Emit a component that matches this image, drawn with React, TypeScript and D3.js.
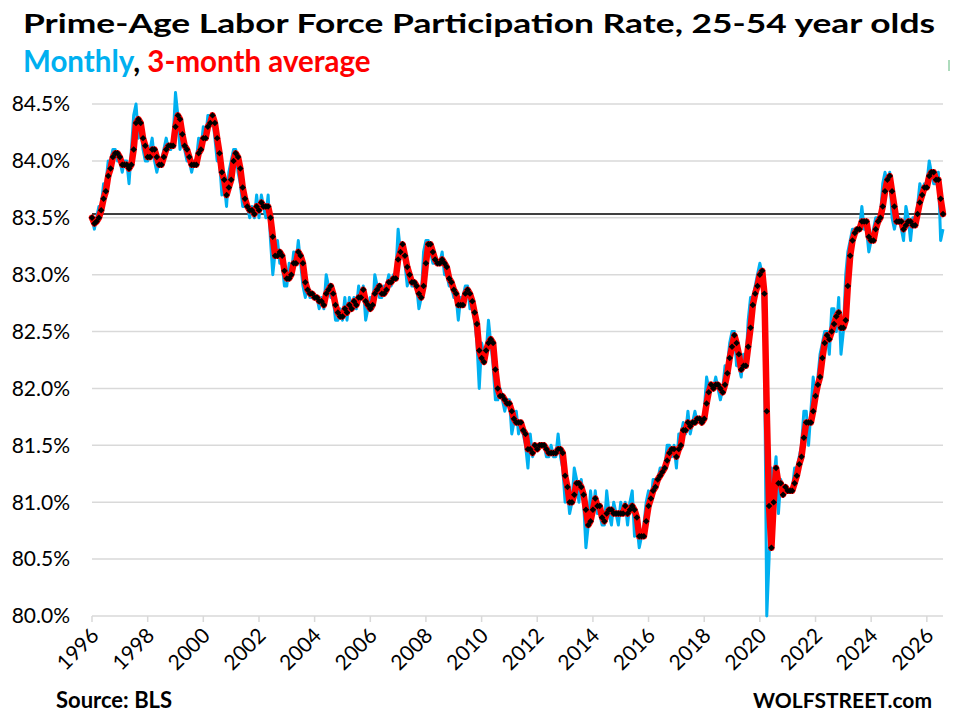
import React from 'react'
import * as d3 from 'd3'

// monthly prime-age LFPR, Jan 1996 onward
const rate1996_2000 = [
  83.5, 83.4, 83.5, 83.6, 83.6, 83.8, 83.8, 84.0, 84.0, 84.1, 84.1, 84.0,
  84.0, 83.9, 84.0, 84.0, 83.8, 84.1, 84.4, 84.5, 84.2, 84.3, 84.1, 84.0,
  84.0, 84.1, 84.2, 84.0, 83.9, 84.0, 84.0, 84.1, 84.2, 84.1, 84.1, 84.2,
  84.6, 84.4, 84.1, 84.2, 84.1, 84.0, 84.0, 83.9, 84.0, 84.0, 84.2, 84.1,
  84.3, 84.2, 84.4, 84.4, 84.4, 84.2, 84.0, 84.0, 83.7, 83.8, 83.6, 83.9,
]
const rate2001_2005 = [
  84.0, 84.1, 84.1, 83.9, 83.8, 83.6, 83.6, 83.6, 83.5, 83.6, 83.5, 83.7,
  83.5, 83.7, 83.6, 83.5, 83.7, 83.3, 83.0, 83.2, 83.3, 83.1, 83.1, 82.9,
  82.9, 83.1, 83.0, 83.2, 83.1, 83.3, 83.1, 82.9, 82.8, 82.9, 82.8, 82.8,
  82.8, 82.8, 82.7, 82.8, 82.7, 83.0, 82.9, 82.8, 82.8, 82.6, 82.6, 82.7,
  82.6, 82.8, 82.6, 82.8, 82.7, 82.8, 82.7, 82.9, 82.8, 82.9, 82.6, 82.7,
]
const rate2006_2010 = [
  82.8, 82.7, 83.0, 82.9, 82.8, 82.8, 82.9, 82.9, 83.0, 82.9, 83.0, 83.0,
  83.4, 83.2, 83.2, 83.1, 82.9, 83.0, 82.9, 82.9, 82.9, 82.7, 82.8, 83.2,
  83.3, 83.3, 83.2, 83.1, 83.1, 83.1, 83.1, 83.2, 83.0, 83.0, 82.9, 82.9,
  82.8, 82.8, 82.6, 82.8, 82.8, 82.9, 82.9, 82.7, 82.7, 82.6, 82.4, 82.0,
  82.4, 82.3, 82.3, 82.6, 82.4, 82.2, 81.9, 81.9, 82.0, 81.9, 81.8, 81.9,
]
const rate2011_2015 = [
  81.9, 81.6, 81.7, 81.8, 81.6, 81.7, 81.6, 81.5, 81.3, 81.6, 81.4, 81.5,
  81.5, 81.5, 81.5, 81.5, 81.4, 81.4, 81.5, 81.4, 81.4, 81.6, 81.4, 81.3,
  81.0, 81.1, 80.9, 81.0, 81.3, 81.2, 81.0, 81.2, 81.0, 80.6, 80.8, 81.1,
  80.9, 81.1, 80.9, 80.9, 80.8, 80.8, 81.1, 80.9, 80.8, 81.0, 80.9, 80.8,
  81.0, 80.9, 81.0, 80.8, 81.0, 81.1, 80.7, 80.8, 80.6, 80.7, 80.8, 81.0,
]
const rate2016_2020 = [
  81.1, 81.0, 81.2, 81.2, 81.2, 81.3, 81.3, 81.3, 81.5, 81.5, 81.4, 81.5,
  81.3, 81.6, 81.6, 81.7, 81.6, 81.8, 81.6, 81.7, 81.8, 81.7, 81.7, 81.7,
  81.8, 82.1, 82.0, 82.0, 82.0, 82.1, 82.0, 81.9, 82.0, 82.2, 82.2, 82.4,
  82.5, 82.5, 82.2, 82.2, 82.1, 82.3, 82.2, 82.6, 82.8, 82.8, 82.9, 83.0,
  83.1, 83.0, 82.4, 80.0, 80.5, 81.3, 81.2, 81.4, 80.9, 81.2, 81.1, 81.1,
]
const rate2021_2026 = [
  81.1, 81.1, 81.1, 81.3, 81.3, 81.4, 81.5, 81.8, 81.8, 81.5, 81.8, 82.1,
  81.9, 82.1, 82.3, 82.4, 82.5, 82.5, 82.3, 82.7, 82.7, 82.5, 82.8, 82.3,
  82.5, 83.0, 83.2, 83.3, 83.4, 83.4, 83.4, 83.4, 83.6, 83.4, 83.4, 83.2,
  83.3, 83.4, 83.5, 83.5, 83.5, 83.8, 83.9, 83.8, 83.9, 83.5, 83.4, 83.5,
  83.5, 83.4, 83.3, 83.6, 83.5, 83.3, 83.5, 83.5, 83.6, 83.8, 83.7, 83.8,
  83.8, 84.0, 83.9, 83.8, 83.8, 83.9, 83.3, 83.4,
]

const startYear = 1996
const yearTicks = [1996, 1998, 2000, 2002, 2004, 2006, 2008, 2010, 2012, 2014, 2016, 2018, 2020, 2022, 2024, 2026]
const rateTicks = [80.0, 80.5, 81.0, 81.5, 82.0, 82.5, 83.0, 83.5, 84.0, 84.5]

const title = 'Prime-Age Labor Force Participation Rate, 25-54 year olds'
const source = 'Source: BLS'
const brand = 'WOLFSTREET.com'

const blue = '#00B0F0'
const red = '#FF0000'
const font = 'Lato, "Open Sans", sans-serif'

const App: React.FunctionComponent = () => {
  const monthly = [...rate1996_2000, ...rate2001_2005, ...rate2006_2010, ...rate2011_2015, ...rate2016_2020, ...rate2021_2026]
  const dates = monthly.map((_, i) => new Date(startYear, i, 1))
  const avg3 = monthly.map((_, i) => d3.mean(monthly.slice(Math.max(0, i - 2), i + 1)) as number)
  const latest = avg3[avg3.length - 1]

  const x = d3.scaleTime()
    .domain([dates[0], dates[dates.length - 1]])
    .range([92, 943])
  const y = d3.scaleLinear()
    .domain([80, 84.5])
    .range([616, 104])

  const line = d3.line<number>()
    .x((_, i) => x(dates[i]))
    .y(d => y(d))

  // Excel-style diamond marker: a small square turned 45 degrees
  const marker = d3.symbol(d3.symbolSquare, 21)()

  const [x0, x1] = x.range()

  return (
    <svg width={958} height={723} style={{ position: 'absolute', left: 0, top: 0, background: '#fff' }} fontFamily={font}>
      <text x={23} y={33} fontSize={27} fontWeight="bold" fill="#000" textLength={912} lengthAdjust="spacingAndGlyphs">{title}</text>
      <text x={23} y={72} fontSize={29.5} fontWeight="bold">
        <tspan fill={blue}>Monthly</tspan>
        <tspan fill="#000">, </tspan>
        <tspan fill={red}>3-month average</tspan>
      </text>

      {rateTicks.map(t => (
        <g key={t}>
          <line x1={x0} x2={x1} y1={y(t)} y2={y(t)} stroke="#D9D9D9" strokeWidth={1.5} />
          <text x={70} y={y(t)} dy="0.35em" textAnchor="end" fontSize={21} fill="#000">{d3.format('.1f')(t)}%</text>
        </g>
      ))}

      {yearTicks.map(yr => {
        const xt = x(new Date(yr, 0, 1))
        return (
          <g key={yr}>
            <line x1={xt} x2={xt} y1={616} y2={622} stroke="#D9D9D9" strokeWidth={1.5} />
            <text transform={`translate(${xt + 8},${637}) rotate(-45)`} textAnchor="end" fontSize={21} fill="#000">{yr}</text>
          </g>
        )
      })}

      <line x1={x0} x2={x1} y1={y(latest)} y2={y(latest)} stroke="#000" strokeWidth={1.5} />

      <path d={line(monthly) ?? ''} fill="none" stroke={blue} strokeWidth={3} strokeLinejoin="round" />
      <path d={line(avg3) ?? ''} fill="none" stroke={red} strokeWidth={6.5} strokeLinejoin="round" strokeLinecap="round" />
      {avg3.map((v, i) => (
        <path key={i} d={marker ?? ''} transform={`translate(${x(dates[i])},${y(v)}) rotate(45)`} fill="#000" />
      ))}

      <line x1={949} x2={949} y1={60} y2={71} stroke="#5CB87A" strokeWidth={1} />

      <text x={56} y={708} fontSize={22} fontWeight="bold" fill="#000">{source}</text>
      <text x={932} y={708} fontSize={21} fontWeight="bold" textAnchor="end" fill="#000">{brand}</text>
    </svg>
  )
}

export default App
